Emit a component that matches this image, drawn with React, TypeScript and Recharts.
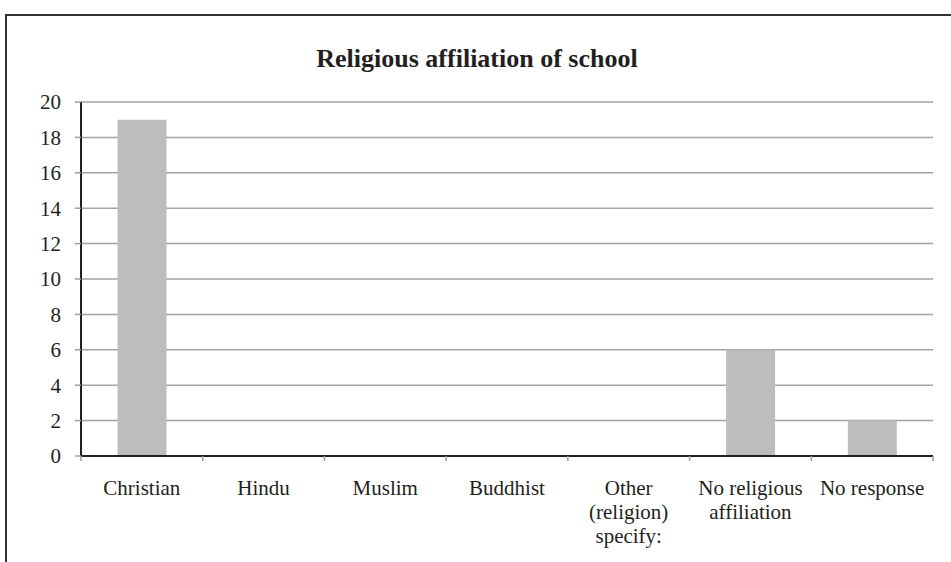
import { BarChart, Bar, XAxis, YAxis, CartesianGrid } from 'recharts'

// Categorías en líneas, tal como se parten bajo el eje
const tickLines: string[][] = [
  ['Christian'],
  ['Hindu'],
  ['Muslim'],
  ['Buddhist'],
  ['Other', '(religion)', 'specify:'],
  ['No religious', 'affiliation'],
  ['No response'],
]
const categories = tickLines.map((l) => l.join(' '))
const schools = [19, 0, 0, 0, 0, 6, 2]
const yTicks = [0, 2, 4, 6, 8, 10, 12, 14, 16, 18, 20]

const data = categories.map((name, i) => ({ name, value: schools[i] }))

const FONT = '"Liberation Serif", "Times New Roman", serif'
const W = 951
const H = 562
const TICK_SIZE = 5
const TICK_MARGIN = 19

// Etiqueta del eje X con marcas en los límites de cada categoría
function CategoryTick(props: any) {
  const { x, y, payload, index, visibleTicksCount } = props
  const half = payload?.offset ?? (933 - 81) / 7 / 2
  const axisY = y - TICK_SIZE - TICK_MARGIN
  const lines = tickLines[index] ?? [String(payload.value)]
  const last = index === (visibleTicksCount ?? tickLines.length) - 1
  return (
    <g>
      <line x1={x - half} x2={x - half} y1={axisY} y2={axisY + TICK_SIZE} stroke="#9d9d9d" strokeWidth={1.5} />
      {last && (
        <line x1={x + half} x2={x + half} y1={axisY} y2={axisY + TICK_SIZE} stroke="#9d9d9d" strokeWidth={1.5} />
      )}
      <text x={x} y={y + 15} textAnchor="middle" fill="#231f20" fontFamily={FONT} fontSize={21}>
        {lines.map((l, i) => (
          <tspan key={i} x={x} dy={i === 0 ? 0 : 24}>
            {l}
          </tspan>
        ))}
      </text>
    </g>
  )
}

export default function App() {
  return (
    <div style={{ position: 'fixed', left: 0, top: 0, width: W, height: H, overflow: 'hidden', background: '#fff' }}>
      {/* Marco del gráfico */}
      <div
        style={{
          position: 'absolute',
          left: 5,
          top: 14,
          width: W + 40,
          height: H + 40,
          border: '2px solid #333',
          boxSizing: 'border-box',
        }}
      />
      <svg style={{ position: 'absolute', left: 0, top: 0 }} width={W} height={90}>
        <text x={477} y={67} textAnchor="middle" fontFamily={FONT} fontWeight="bold" fontSize={26} fill="#231f20">
          Religious affiliation of school
        </text>
      </svg>
      <div style={{ position: 'absolute', left: 0, top: 0 }}>
        <BarChart
          width={W}
          height={H}
          data={data}
          margin={{ top: 102, right: 18, bottom: 46, left: 0 }}
          barCategoryGap="30%"
        >
          <CartesianGrid vertical={false} stroke="#a3a3a3" strokeWidth={1.5} />
          <XAxis
            dataKey="name"
            height={60}
            interval={0}
            tickLine={false}
            tickSize={TICK_SIZE}
            tickMargin={TICK_MARGIN}
            axisLine={{ stroke: '#231f20', strokeWidth: 2 }}
            tick={<CategoryTick />}
          />
          <YAxis
            width={81}
            domain={[0, 20]}
            ticks={yTicks}
            interval={0}
            tickSize={6}
            tickMargin={14}
            axisLine={{ stroke: '#231f20', strokeWidth: 2 }}
            tickLine={{ stroke: '#9d9d9d', strokeWidth: 1.5 }}
            tick={{ fill: '#231f20', fontFamily: FONT, fontSize: 21 }}
          />
          <Bar dataKey="value" fill="#bcbdbf" isAnimationActive={false} />
        </BarChart>
      </div>
    </div>
  )
}
